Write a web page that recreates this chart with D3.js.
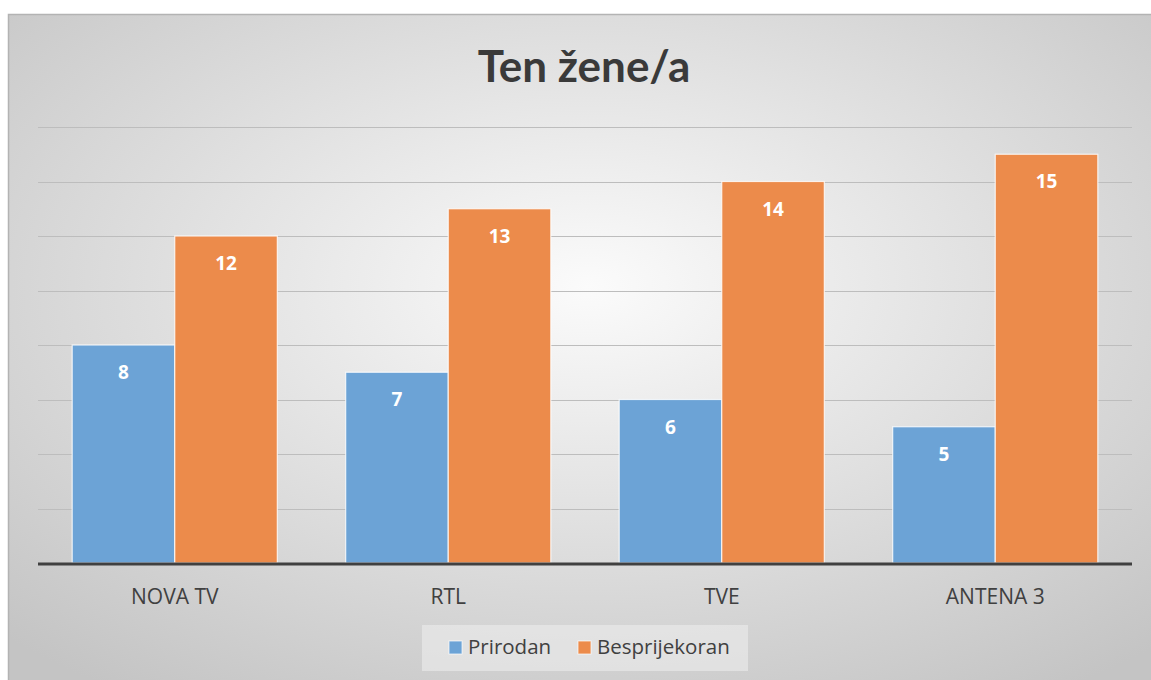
<!DOCTYPE html>
<html>
<head>
<meta charset="utf-8">
<script src="https://cdn.jsdelivr.net/npm/d3@7"></script>
<style>
  body { margin: 0; background: #fff; }
  svg { display: block; }
</style>
</head>
<body>
<script>
// Data
const categories = ["NOVA TV", "RTL", "TVE", "ANTENA 3"];
const seriesNames = ["Prirodan", "Besprijekoran"];
const prirodan = [8, 7, 6, 5];
const besprijekoran = [12, 13, 14, 15];
const colors = ["#6ca3d6", "#ec8b4b"];

const width = 1151,
    height = 680;

const margin = {left: 38, right: 19, top: 127, bottom: 117};

const svg = d3.select("body").append("svg")
    .attr("width", width)
    .attr("height", height);

// background gradient
const defs = svg.append("defs");
const grad = defs.append("radialGradient")
    .attr("id", "bg")
    .attr("cx", "50%").attr("cy", "40%")
    .attr("r", "72%");
grad.append("stop").attr("offset", "0%").attr("stop-color", "#fbfbfb");
grad.append("stop").attr("offset", "100%").attr("stop-color", "#c4c4c4");

svg.append("rect")
    .attr("x", 8.5).attr("y", 14.5)
    .attr("width", width + 10).attr("height", height)
    .attr("fill", "url(#bg)")
    .attr("stroke", "#b3b3b3")
    .attr("stroke-width", 1.5);

// Title
svg.append("text")
    .attr("x", 584)
    .attr("y", 82)
    .attr("text-anchor", "middle")
    .style("font-family", "Lato, 'Open Sans', sans-serif")
    .style("font-weight", "bold")
    .style("font-size", "44px")
    .style("fill", "#3a3a3a")
    .text("Ten žene/a");

const x0 = d3.scaleBand()
    .domain(categories)
    .range([margin.left, width - margin.right])
    .paddingInner(0.25)
    .paddingOuter(0.125);

const x1 = d3.scaleBand()
    .domain(seriesNames)
    .range([0, x0.bandwidth()]);

const y = d3.scaleLinear()
    .domain([0, 16])
    .range([height - margin.bottom, margin.top]);

// gridlines
svg.append("g")
    .selectAll("line")
    .data(y.ticks(8).filter(d => d > 0))
    .join("line")
    .attr("x1", margin.left)
    .attr("x2", width - margin.right)
    .attr("y1", d => Math.round(y(d)) + 0.5)
    .attr("y2", d => Math.round(y(d)) + 0.5)
    .attr("stroke", "#bdbdbd")
    .attr("stroke-width", 1.2);

// bars
const rows = categories.map((c, i) => ({cat: c, values: [prirodan[i], besprijekoran[i]]}));

const groups = svg.append("g")
    .selectAll("g")
    .data(rows)
    .join("g")
    .attr("transform", d => `translate(${x0(d.cat)},0)`);

groups.selectAll("rect")
    .data(d => d.values.map((v, j) => ({name: seriesNames[j], v, j})))
    .join("rect")
    .attr("x", d => x1(d.name))
    .attr("y", d => y(d.v))
    .attr("width", x1.bandwidth())
    .attr("height", d => y(0) - y(d.v))
    .attr("fill", d => colors[d.j])
    .attr("stroke", "#ffffff")
    .attr("stroke-opacity", 0.8)
    .attr("stroke-width", 1.2);

groups.selectAll("text")
    .data(d => d.values.map((v, j) => ({name: seriesNames[j], v, j})))
    .join("text")
    .attr("x", d => x1(d.name) + x1.bandwidth() / 2)
    .attr("y", d => y(d.v) + 34)
    .attr("text-anchor", "middle")
    .style("font-family", "'Open Sans', sans-serif")
    .style("font-weight", "bold")
    .style("font-size", "19px")
    .style("fill", "#ffffff")
    .text(d => d.v);

// baseline
svg.append("line")
    .attr("x1", margin.left)
    .attr("x2", width - margin.right)
    .attr("y1", y(0) + 1)
    .attr("y2", y(0) + 1)
    .attr("stroke", "#404040")
    .attr("stroke-width", 3);

// category labels
const xAxis = d3.axisBottom(x0).tickSize(0).tickPadding(0);
const xg = svg.append("g")
    .attr("transform", `translate(0,${y(0)})`)
    .call(xAxis);
xg.select(".domain").remove();
xg.selectAll("text")
    .attr("dy", 0)
    .attr("y", 41)
    .style("font-family", "'Open Sans', sans-serif")
    .style("font-size", "21px")
    .style("fill", "#404040");

// legend
const legend = svg.append("g");
legend.append("rect")
    .attr("x", 422).attr("y", 625)
    .attr("width", 326).attr("height", 46)
    .attr("fill", "#ececec")
    .attr("fill-opacity", 0.6);

const legendX = [449, 578];
const items = legend.selectAll("g")
    .data(seriesNames)
    .join("g")
    .attr("transform", (d, i) => `translate(${legendX[i]},641)`);
items.append("rect")
    .attr("width", 13).attr("height", 13)
    .attr("fill", (d, i) => colors[i])
    .attr("stroke", "#ffffff")
    .attr("stroke-opacity", 0.7);
items.append("text")
    .attr("x", 19)
    .attr("y", 13)
    .style("font-family", "'Open Sans', sans-serif")
    .style("font-size", "20.5px")
    .style("fill", "#404040")
    .text(d => d);
</script>
</body>
</html>
